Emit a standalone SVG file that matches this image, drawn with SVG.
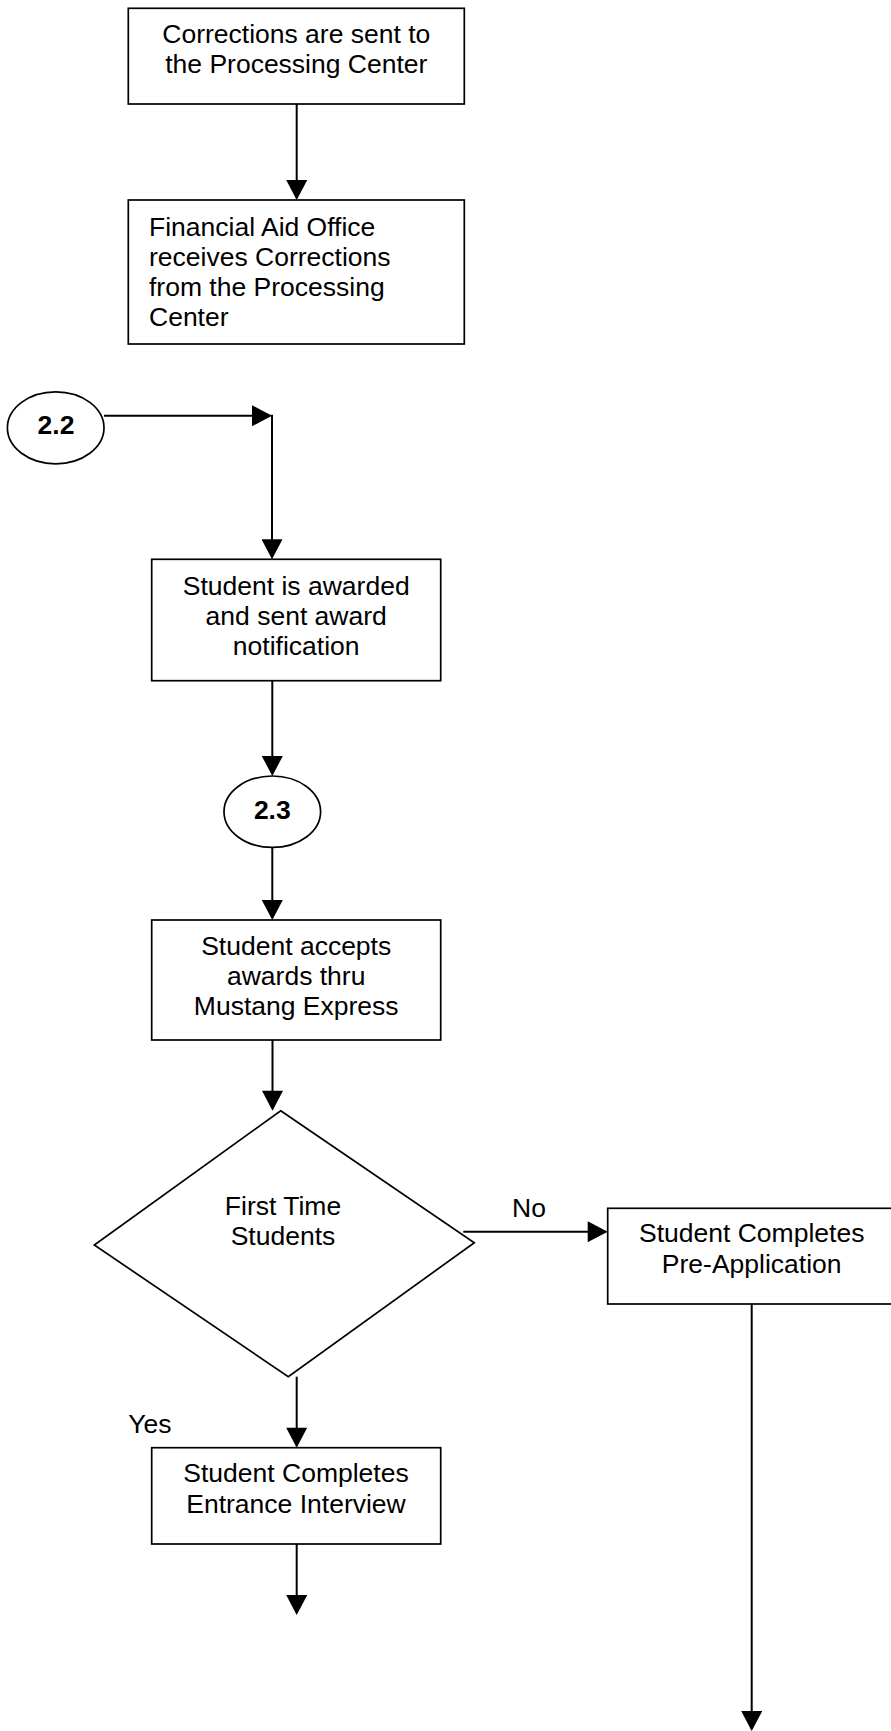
<svg xmlns="http://www.w3.org/2000/svg" width="891" height="1731" viewBox="0 0 891 1731">
  <style>
    .box { fill: #ffffff; stroke: #000000; stroke-width: 1.7; }
    .conn { fill: none; stroke: #000000; stroke-width: 2; }
    .t { font-family: "Liberation Sans", Arial, sans-serif; font-size: 26.5px; fill: #000000; }
    .c { text-anchor: middle; }
    .b { font-weight: bold; }
  </style>
  <defs>
    <marker id="arrow" markerUnits="userSpaceOnUse" markerWidth="21" markerHeight="21" viewBox="0 0 20 21" refX="18" refY="10.5" orient="auto">
      <path d="M0,0 L20,10.5 L0,21 Z" fill="#000000"/>
    </marker>
  </defs>
  <rect x="0" y="0" width="891" height="1731" fill="#ffffff"/>

  <!-- connectors -->
  <g id="connectors">
    <line class="conn" x1="296.7" y1="104" x2="296.7" y2="198" marker-end="url(#arrow)"/>
    <line class="conn" x1="104" y1="415.7" x2="270" y2="415.7" marker-end="url(#arrow)"/>
    <line class="conn" x1="272" y1="414.7" x2="272" y2="557.3" marker-end="url(#arrow)"/>
    <line class="conn" x1="272.3" y1="680.7" x2="272.3" y2="774" marker-end="url(#arrow)"/>
    <line class="conn" x1="272.3" y1="847.3" x2="272.3" y2="918" marker-end="url(#arrow)"/>
    <line class="conn" x1="272.5" y1="1040" x2="272.5" y2="1108.7" marker-end="url(#arrow)"/>
    <line class="conn" x1="463.3" y1="1231.7" x2="605.7" y2="1231.7" marker-end="url(#arrow)"/>
    <line class="conn" x1="751.7" y1="1304" x2="751.7" y2="1729" marker-end="url(#arrow)"/>
    <line class="conn" x1="296.7" y1="1376.7" x2="296.7" y2="1445.7" marker-end="url(#arrow)"/>
    <line class="conn" x1="296.7" y1="1544" x2="296.7" y2="1613" marker-end="url(#arrow)"/>
    <text class="t c" x="529" y="1217">No</text>
    <text class="t" x="128.3" y="1432.5">Yes</text>
  </g>

  <g id="corrections-sent">
    <rect class="box" x="128.3" y="8.3" width="336" height="95.7"/>
    <text class="t c" x="296.3" y="43">Corrections are sent to</text>
    <text class="t c" x="296.3" y="73">the Processing Center</text>
  </g>

  <g id="corrections-received">
    <rect class="box" x="128.3" y="200" width="336" height="144"/>
    <text class="t" x="149" y="235.5">Financial Aid Office</text>
    <text class="t" x="149" y="265.5">receives Corrections</text>
    <text class="t" x="149" y="295.5">from the Processing</text>
    <text class="t" x="149" y="325.5">Center</text>
  </g>

  <g id="connector-2-2">
    <ellipse class="box" cx="55.7" cy="427.8" rx="48.3" ry="36"/>
    <text class="t c b" x="56" y="433.5">2.2</text>
  </g>

  <g id="awarded">
    <rect class="box" x="151.7" y="559.3" width="289" height="121.4"/>
    <text class="t c" x="296.2" y="595">Student is awarded</text>
    <text class="t c" x="296.2" y="625">and sent award</text>
    <text class="t c" x="296.2" y="655">notification</text>
  </g>

  <g id="connector-2-3">
    <ellipse class="box" cx="272.3" cy="811.7" rx="48.3" ry="35.7"/>
    <text class="t c b" x="272.3" y="818.5">2.3</text>
  </g>

  <g id="accepts-awards">
    <rect class="box" x="151.7" y="920" width="289" height="120"/>
    <text class="t c" x="296.2" y="955.3">Student accepts</text>
    <text class="t c" x="296.2" y="985.3">awards thru</text>
    <text class="t c" x="296.2" y="1015.3">Mustang Express</text>
  </g>

  <g id="first-time-decision">
    <polygon class="box" points="280.7,1110.7 474.3,1242.7 288.3,1376.7 94.3,1245"/>
    <text class="t c" x="283" y="1215.3">First Time</text>
    <text class="t c" x="283" y="1245.3">Students</text>
  </g>

  <g id="pre-application">
    <rect class="box" x="607.7" y="1208.3" width="300" height="95.7"/>
    <text class="t c" x="751.7" y="1242">Student Completes</text>
    <text class="t c" x="751.7" y="1272.5">Pre-Application</text>
  </g>

  <g id="entrance-interview">
    <rect class="box" x="151.7" y="1447.7" width="289" height="96.3"/>
    <text class="t c" x="296" y="1482">Student Completes</text>
    <text class="t c" x="296" y="1512.5">Entrance Interview</text>
  </g>
</svg>
